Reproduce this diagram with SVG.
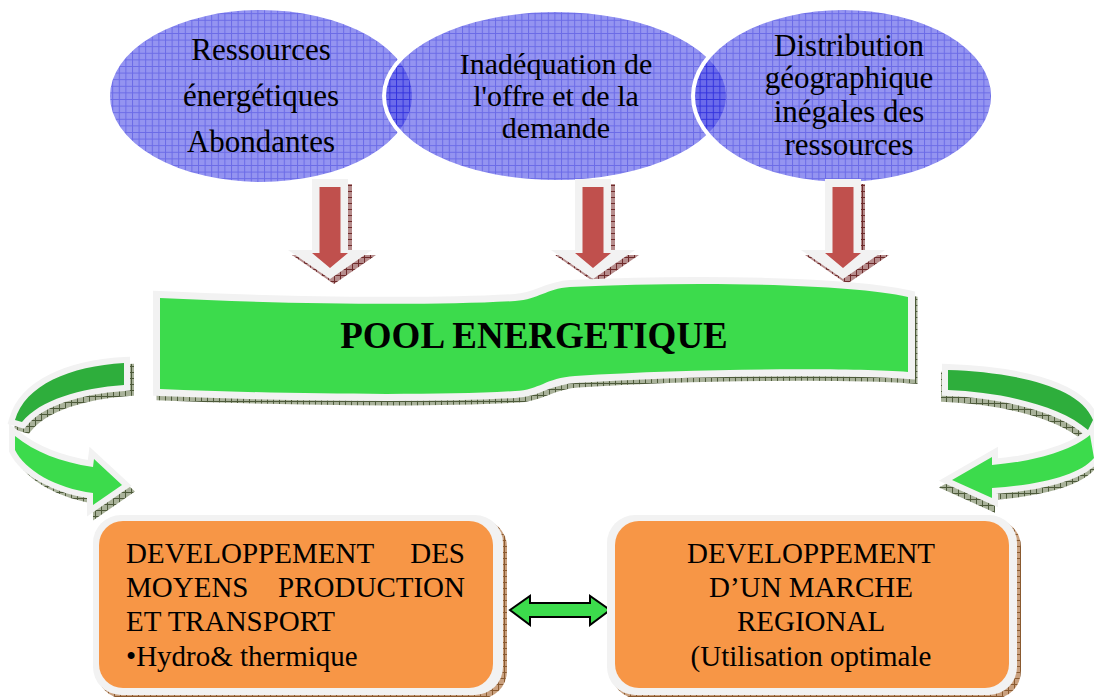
<svg xmlns="http://www.w3.org/2000/svg" width="1094" height="697" viewBox="0 0 1094 697">
<defs>
<pattern id="grid" width="6.6" height="6.6" patternUnits="userSpaceOnUse">
<rect width="6.6" height="6.6" fill="#5252e8"/>
<path d="M0 0.5H6.6M0.5 0V6.6" stroke="#1010d8" stroke-width="1"/>
</pattern>
<pattern id="hatchG" width="6" height="6" patternUnits="userSpaceOnUse">
<rect width="6" height="6" fill="#a9b29a"/>
<path d="M0 0.5H6M0.5 0V6" stroke="#4d5a3a" stroke-width="1"/>
</pattern>
<pattern id="hatchR" width="6" height="6" patternUnits="userSpaceOnUse">
<rect width="6" height="6" fill="#b68c8c"/>
<path d="M0 0.5H6M0.5 0V6" stroke="#6e2a2a" stroke-width="1"/>
</pattern>
<pattern id="hatchO" width="6" height="6" patternUnits="userSpaceOnUse">
<rect width="6" height="6" fill="#c9a07e"/>
<path d="M0 0.5H6M0.5 0V6" stroke="#8a5a30" stroke-width="1"/>
</pattern>
</defs>
<style>
.ell{fill:url(#grid);fill-opacity:0.62;stroke:#ffffff;stroke-width:4}
.t{font-family:"Liberation Serif","Times New Roman",serif;fill:#000}
.et{font-size:31px;text-anchor:middle}
.bt{font-size:29px}
.wb{fill:#f2f2f2;stroke:#f2f2f2;stroke-width:12;stroke-linejoin:miter}
.gr{fill:#3cdb4c}
.dg{fill:#2eae3c}
.red{fill:#c0504d}
.org{fill:#f79646}
.shG{fill:url(#hatchG)}
.shR{fill:url(#hatchR)}
.shO{fill:url(#hatchO)}
</style>

<g id="ellipse1">
<ellipse class="ell" cx="261" cy="96" rx="153" ry="88"/>
<text class="t et" x="261" y="60">Ressources</text>
<text class="t et" x="261" y="106">énergétiques</text>
<text class="t et" x="261" y="152">Abondantes</text>
</g>
<g id="ellipse2">
<ellipse class="ell" cx="556" cy="96" rx="172" ry="86"/>
<text class="t et" x="556" y="74" style="font-size:30px">Inadéquation de</text>
<text class="t et" x="556" y="106" style="font-size:30px">l'offre et de la</text>
<text class="t et" x="556" y="138" style="font-size:30px">demande</text>
</g>
<g id="ellipse3">
<ellipse class="ell" cx="843" cy="96" rx="150" ry="88"/>
<text class="t et" x="849" y="56">Distribution</text>
<text class="t et" x="849" y="88">géographique</text>
<text class="t et" x="849" y="122">inégales des</text>
<text class="t et" x="849" y="155">ressources</text>
</g>

<g id="connectors">
<g id="down1">
<path class="shR" transform="translate(4,5)" d="M312 179H348V250H372L330 279L288 250H312Z"/>
<path fill="#f2f2f2" d="M312 179H348V250H372L330 279L288 250H312Z"/>
<path class="red" d="M319.5 187H340.5V253H348L330 268L312 253H319.5Z"/>
</g>
<g id="down2">
<path class="shR" transform="translate(4,5)" d="M575 179H611V250H635L593 279L551 250H575Z"/>
<path fill="#f2f2f2" d="M575 179H611V250H635L593 279L551 250H575Z"/>
<path class="red" d="M582.5 187H603.5V253H611L593 268L575 253H582.5Z"/>
</g>
<g id="down3">
<path class="shR" transform="translate(4,5)" d="M825 179H861V250H885L843 279L801 250H825Z"/>
<path fill="#f2f2f2" d="M825 179H861V250H885L843 279L801 250H825Z"/>
<path class="red" d="M832.5 187H853.5V253H861L843 268L825 253H832.5Z"/>
</g>
<g id="curveLeft">
<g class="shG" transform="translate(5,6)">
<path d="M124 363C70 366 25 385 15 420L22 422C40 400 80 388 124 385Z" stroke="url(#hatchG)" stroke-width="10"/>
<path d="M15 436C35 452 60 462 93 467L94 459L122 485L93 505L93 493C55 488 25 470 15 450Z" stroke="url(#hatchG)" stroke-width="10"/>
</g>
<path class="wb" d="M124 363C70 366 25 385 15 420L22 422C40 400 80 388 124 385Z"/>
<path class="wb" d="M15 436C35 452 60 462 93 467L94 459L122 485L93 505L93 493C55 488 25 470 15 450Z"/>
<path class="dg" d="M124 363C70 366 25 385 15 420L22 422C40 400 80 388 124 385Z"/>
<path class="gr" d="M15 436C35 452 60 462 93 467L94 459L122 485L93 505L93 493C55 488 25 470 15 450Z"/>
</g>
<g id="curveRight">
<g class="shG" transform="translate(-2,7)">
<path d="M948 370C1010 372 1080 385 1093 420L1088 430C1060 405 1000 392 948 390Z" stroke="url(#hatchG)" stroke-width="10"/>
<path d="M1090 435C1070 452 1030 462 992 465L992 457L952 480L992 498L992 488C1040 485 1080 475 1094 458Z" stroke="url(#hatchG)" stroke-width="10"/>
</g>
<path class="wb" d="M948 370C1010 372 1080 385 1093 420L1088 430C1060 405 1000 392 948 390Z"/>
<path class="wb" d="M1090 435C1070 452 1030 462 992 465L992 457L952 480L992 498L992 488C1040 485 1080 475 1094 458Z"/>
<path class="dg" d="M948 370C1010 372 1080 385 1093 420L1088 430C1060 405 1000 392 948 390Z"/>
<path class="gr" d="M1090 435C1070 452 1030 462 992 465L992 457L952 480L992 498L992 488C1040 485 1080 475 1094 458Z"/>
</g>
<path id="biArrow" d="M510 610L530 596V603H590V596L610 610L590 625V617H530V625Z" fill="#3cdb4c" stroke="#000" stroke-width="2" stroke-linejoin="miter"/>
</g>

<g id="pool">
<path class="shG" transform="translate(3,5)" stroke="url(#hatchG)" stroke-width="13" d="M160 298C280 304 430 306 515 301C540 299 545 289 570 287C700 281 850 284 908 297L908 372C850 368 700 368 575 376C545 378 540 390 515 391C430 396 280 394 160 389Z"/>
<path fill="#f2f2f2" stroke="#f2f2f2" stroke-width="14" d="M160 298C280 304 430 306 515 301C540 299 545 289 570 287C700 281 850 284 908 297L908 372C850 368 700 368 575 376C545 378 540 390 515 391C430 396 280 394 160 389Z"/>
<path class="gr" d="M160 298C280 304 430 306 515 301C540 299 545 289 570 287C700 281 850 284 908 297L908 372C850 368 700 368 575 376C545 378 540 390 515 391C430 396 280 394 160 389Z"/>
<text class="t" x="534" y="348" text-anchor="middle" style="font-size:37px;font-weight:bold">POOL ENERGETIQUE</text>
</g>

<g id="boxLeft">
<rect class="shO" x="97" y="519" width="410" height="180" rx="28"/>
<rect fill="#f2f2f2" x="93" y="515" width="410" height="180" rx="28"/>
<rect class="org" x="99" y="521" width="394" height="167" rx="24"/>
<text class="t bt" x="126" y="563">DEVELOPPEMENT</text>
<text class="t bt" x="465" y="563" text-anchor="end">DES</text>
<text class="t bt" x="126" y="597">MOYENS</text>
<text class="t bt" x="465" y="597" text-anchor="end">PRODUCTION</text>
<text class="t bt" x="126" y="631">ET TRANSPORT</text>
<text class="t bt" x="126" y="666">•Hydro&amp; thermique</text>
</g>

<g id="boxRight">
<rect class="shO" x="611" y="519" width="410" height="180" rx="28"/>
<rect fill="#f2f2f2" x="607" y="515" width="410" height="180" rx="28"/>
<rect class="org" x="615" y="521" width="394" height="167" rx="24"/>
<text class="t bt" x="811" y="563" text-anchor="middle">DEVELOPPEMENT</text>
<text class="t bt" x="811" y="597" text-anchor="middle">D’UN MARCHE</text>
<text class="t bt" x="811" y="631" text-anchor="middle">REGIONAL</text>
<text class="t bt" x="811" y="666" text-anchor="middle">(Utilisation optimale</text>
</g>
</svg>
